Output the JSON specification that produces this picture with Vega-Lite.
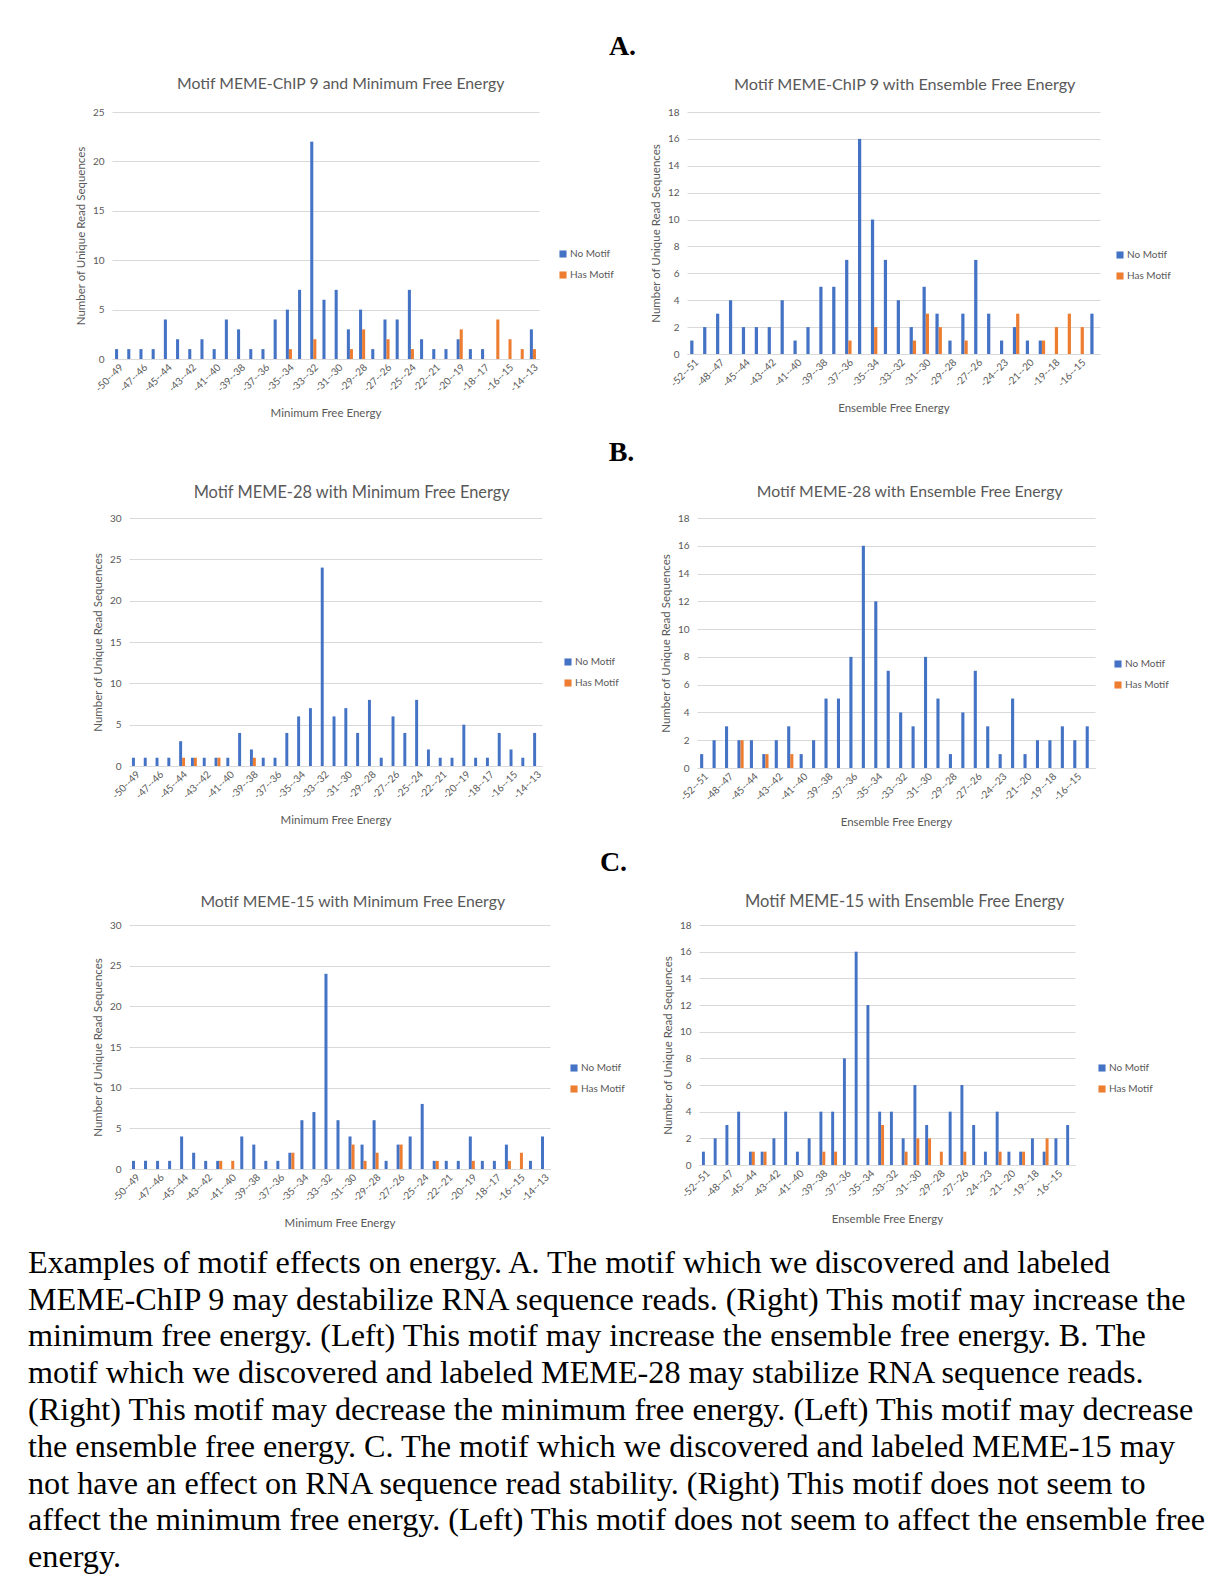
{
  "$schema": "https://vega.github.io/schema/vega-lite/v6.json",
  "padding": {"left": 28, "top": 33, "right": 5, "bottom": 2},
  "background": "white",
  "title": {
    "text": [
      "Examples of motif effects on energy. A. The motif which we discovered and labeled",
      "MEME-ChIP 9 may destabilize RNA sequence reads. (Right) This motif may increase the",
      "minimum free energy. (Left) This motif may increase the ensemble free energy. B. The",
      "motif which we discovered and labeled MEME-28 may stabilize RNA sequence reads.",
      "(Right) This motif may decrease the minimum free energy. (Left) This motif may decrease",
      "the ensemble free energy. C. The motif which we discovered and labeled MEME-15 may",
      "not have an effect on RNA sequence read stability. (Right) This motif does not seem to",
      "affect the minimum free energy. (Left) This motif does not seem to affect the ensemble free",
      "energy."
    ],
    "orient": "bottom",
    "anchor": "start",
    "font": "Liberation Serif",
    "fontSize": 32.2,
    "fontWeight": "normal",
    "color": "#000000",
    "lineHeight": 36.8,
    "offset": 19,
    "dx": -46
  },
  "datasets": {
    "aL": [
      {"bin": "-50--49", "motif": "No Motif", "count": 1},
      {"bin": "-48--47", "motif": "No Motif", "count": 1},
      {"bin": "-47--46", "motif": "No Motif", "count": 1},
      {"bin": "-46--45", "motif": "No Motif", "count": 1},
      {"bin": "-45--44", "motif": "No Motif", "count": 4},
      {"bin": "-44--43", "motif": "No Motif", "count": 2},
      {"bin": "-43--42", "motif": "No Motif", "count": 1},
      {"bin": "-42--41", "motif": "No Motif", "count": 2},
      {"bin": "-41--40", "motif": "No Motif", "count": 1},
      {"bin": "-40--39", "motif": "No Motif", "count": 4},
      {"bin": "-39--38", "motif": "No Motif", "count": 3},
      {"bin": "-38--37", "motif": "No Motif", "count": 1},
      {"bin": "-37--36", "motif": "No Motif", "count": 1},
      {"bin": "-36--35", "motif": "No Motif", "count": 4},
      {"bin": "-35--34", "motif": "No Motif", "count": 5},
      {"bin": "-35--34", "motif": "Has Motif", "count": 1},
      {"bin": "-34--33", "motif": "No Motif", "count": 7},
      {"bin": "-33--32", "motif": "No Motif", "count": 22},
      {"bin": "-33--32", "motif": "Has Motif", "count": 2},
      {"bin": "-32--31", "motif": "No Motif", "count": 6},
      {"bin": "-31--30", "motif": "No Motif", "count": 7},
      {"bin": "-30--29", "motif": "No Motif", "count": 3},
      {"bin": "-30--29", "motif": "Has Motif", "count": 1},
      {"bin": "-29--28", "motif": "No Motif", "count": 5},
      {"bin": "-29--28", "motif": "Has Motif", "count": 3},
      {"bin": "-28--27", "motif": "No Motif", "count": 1},
      {"bin": "-27--26", "motif": "No Motif", "count": 4},
      {"bin": "-27--26", "motif": "Has Motif", "count": 2},
      {"bin": "-26--25", "motif": "No Motif", "count": 4},
      {"bin": "-25--24", "motif": "No Motif", "count": 7},
      {"bin": "-25--24", "motif": "Has Motif", "count": 1},
      {"bin": "-24--23", "motif": "No Motif", "count": 2},
      {"bin": "-22--21", "motif": "No Motif", "count": 1},
      {"bin": "-21--20", "motif": "No Motif", "count": 1},
      {"bin": "-20--19", "motif": "No Motif", "count": 2},
      {"bin": "-20--19", "motif": "Has Motif", "count": 3},
      {"bin": "-19--18", "motif": "No Motif", "count": 1},
      {"bin": "-18--17", "motif": "No Motif", "count": 1},
      {"bin": "-17--16", "motif": "Has Motif", "count": 4},
      {"bin": "-16--15", "motif": "Has Motif", "count": 2},
      {"bin": "-15--14", "motif": "Has Motif", "count": 1},
      {"bin": "-14--13", "motif": "No Motif", "count": 3},
      {"bin": "-14--13", "motif": "Has Motif", "count": 1}
    ],
    "aR": [
      {"bin": "-52--51", "motif": "No Motif", "count": 1},
      {"bin": "-50--49", "motif": "No Motif", "count": 2},
      {"bin": "-48--47", "motif": "No Motif", "count": 3},
      {"bin": "-46--45", "motif": "No Motif", "count": 4},
      {"bin": "-45--44", "motif": "No Motif", "count": 2},
      {"bin": "-44--43", "motif": "No Motif", "count": 2},
      {"bin": "-43--42", "motif": "No Motif", "count": 2},
      {"bin": "-42--41", "motif": "No Motif", "count": 4},
      {"bin": "-41--40", "motif": "No Motif", "count": 1},
      {"bin": "-40--39", "motif": "No Motif", "count": 2},
      {"bin": "-39--38", "motif": "No Motif", "count": 5},
      {"bin": "-38--37", "motif": "No Motif", "count": 5},
      {"bin": "-37--36", "motif": "No Motif", "count": 7},
      {"bin": "-37--36", "motif": "Has Motif", "count": 1},
      {"bin": "-36--35", "motif": "No Motif", "count": 16},
      {"bin": "-35--34", "motif": "No Motif", "count": 10},
      {"bin": "-35--34", "motif": "Has Motif", "count": 2},
      {"bin": "-34--33", "motif": "No Motif", "count": 7},
      {"bin": "-33--32", "motif": "No Motif", "count": 4},
      {"bin": "-32--31", "motif": "No Motif", "count": 2},
      {"bin": "-32--31", "motif": "Has Motif", "count": 1},
      {"bin": "-31--30", "motif": "No Motif", "count": 5},
      {"bin": "-31--30", "motif": "Has Motif", "count": 3},
      {"bin": "-30--29", "motif": "No Motif", "count": 3},
      {"bin": "-30--29", "motif": "Has Motif", "count": 2},
      {"bin": "-29--28", "motif": "No Motif", "count": 1},
      {"bin": "-28--27", "motif": "No Motif", "count": 3},
      {"bin": "-28--27", "motif": "Has Motif", "count": 1},
      {"bin": "-27--26", "motif": "No Motif", "count": 7},
      {"bin": "-26--25", "motif": "No Motif", "count": 3},
      {"bin": "-24--23", "motif": "No Motif", "count": 1},
      {"bin": "-23--22", "motif": "No Motif", "count": 2},
      {"bin": "-23--22", "motif": "Has Motif", "count": 3},
      {"bin": "-21--20", "motif": "No Motif", "count": 1},
      {"bin": "-20--19", "motif": "No Motif", "count": 1},
      {"bin": "-20--19", "motif": "Has Motif", "count": 1},
      {"bin": "-19--18", "motif": "Has Motif", "count": 2},
      {"bin": "-18--17", "motif": "Has Motif", "count": 3},
      {"bin": "-16--15", "motif": "Has Motif", "count": 2},
      {"bin": "-15--14", "motif": "No Motif", "count": 3}
    ],
    "bL": [
      {"bin": "-50--49", "motif": "No Motif", "count": 1},
      {"bin": "-48--47", "motif": "No Motif", "count": 1},
      {"bin": "-47--46", "motif": "No Motif", "count": 1},
      {"bin": "-46--45", "motif": "No Motif", "count": 1},
      {"bin": "-45--44", "motif": "No Motif", "count": 3},
      {"bin": "-45--44", "motif": "Has Motif", "count": 1},
      {"bin": "-44--43", "motif": "No Motif", "count": 1},
      {"bin": "-44--43", "motif": "Has Motif", "count": 1},
      {"bin": "-43--42", "motif": "No Motif", "count": 1},
      {"bin": "-42--41", "motif": "No Motif", "count": 1},
      {"bin": "-42--41", "motif": "Has Motif", "count": 1},
      {"bin": "-41--40", "motif": "No Motif", "count": 1},
      {"bin": "-40--39", "motif": "No Motif", "count": 4},
      {"bin": "-39--38", "motif": "No Motif", "count": 2},
      {"bin": "-39--38", "motif": "Has Motif", "count": 1},
      {"bin": "-38--37", "motif": "No Motif", "count": 1},
      {"bin": "-37--36", "motif": "No Motif", "count": 1},
      {"bin": "-36--35", "motif": "No Motif", "count": 4},
      {"bin": "-35--34", "motif": "No Motif", "count": 6},
      {"bin": "-34--33", "motif": "No Motif", "count": 7},
      {"bin": "-33--32", "motif": "No Motif", "count": 24},
      {"bin": "-32--31", "motif": "No Motif", "count": 6},
      {"bin": "-31--30", "motif": "No Motif", "count": 7},
      {"bin": "-30--29", "motif": "No Motif", "count": 4},
      {"bin": "-29--28", "motif": "No Motif", "count": 8},
      {"bin": "-28--27", "motif": "No Motif", "count": 1},
      {"bin": "-27--26", "motif": "No Motif", "count": 6},
      {"bin": "-26--25", "motif": "No Motif", "count": 4},
      {"bin": "-25--24", "motif": "No Motif", "count": 8},
      {"bin": "-24--23", "motif": "No Motif", "count": 2},
      {"bin": "-22--21", "motif": "No Motif", "count": 1},
      {"bin": "-21--20", "motif": "No Motif", "count": 1},
      {"bin": "-20--19", "motif": "No Motif", "count": 5},
      {"bin": "-19--18", "motif": "No Motif", "count": 1},
      {"bin": "-18--17", "motif": "No Motif", "count": 1},
      {"bin": "-17--16", "motif": "No Motif", "count": 4},
      {"bin": "-16--15", "motif": "No Motif", "count": 2},
      {"bin": "-15--14", "motif": "No Motif", "count": 1},
      {"bin": "-14--13", "motif": "No Motif", "count": 4}
    ],
    "bR": [
      {"bin": "-52--51", "motif": "No Motif", "count": 1},
      {"bin": "-50--49", "motif": "No Motif", "count": 2},
      {"bin": "-48--47", "motif": "No Motif", "count": 3},
      {"bin": "-46--45", "motif": "No Motif", "count": 2},
      {"bin": "-46--45", "motif": "Has Motif", "count": 2},
      {"bin": "-45--44", "motif": "No Motif", "count": 2},
      {"bin": "-44--43", "motif": "No Motif", "count": 1},
      {"bin": "-44--43", "motif": "Has Motif", "count": 1},
      {"bin": "-43--42", "motif": "No Motif", "count": 2},
      {"bin": "-42--41", "motif": "No Motif", "count": 3},
      {"bin": "-42--41", "motif": "Has Motif", "count": 1},
      {"bin": "-41--40", "motif": "No Motif", "count": 1},
      {"bin": "-40--39", "motif": "No Motif", "count": 2},
      {"bin": "-39--38", "motif": "No Motif", "count": 5},
      {"bin": "-38--37", "motif": "No Motif", "count": 5},
      {"bin": "-37--36", "motif": "No Motif", "count": 8},
      {"bin": "-36--35", "motif": "No Motif", "count": 16},
      {"bin": "-35--34", "motif": "No Motif", "count": 12},
      {"bin": "-34--33", "motif": "No Motif", "count": 7},
      {"bin": "-33--32", "motif": "No Motif", "count": 4},
      {"bin": "-32--31", "motif": "No Motif", "count": 3},
      {"bin": "-31--30", "motif": "No Motif", "count": 8},
      {"bin": "-30--29", "motif": "No Motif", "count": 5},
      {"bin": "-29--28", "motif": "No Motif", "count": 1},
      {"bin": "-28--27", "motif": "No Motif", "count": 4},
      {"bin": "-27--26", "motif": "No Motif", "count": 7},
      {"bin": "-26--25", "motif": "No Motif", "count": 3},
      {"bin": "-24--23", "motif": "No Motif", "count": 1},
      {"bin": "-23--22", "motif": "No Motif", "count": 5},
      {"bin": "-21--20", "motif": "No Motif", "count": 1},
      {"bin": "-20--19", "motif": "No Motif", "count": 2},
      {"bin": "-19--18", "motif": "No Motif", "count": 2},
      {"bin": "-18--17", "motif": "No Motif", "count": 3},
      {"bin": "-16--15", "motif": "No Motif", "count": 2},
      {"bin": "-15--14", "motif": "No Motif", "count": 3}
    ],
    "cL": [
      {"bin": "-50--49", "motif": "No Motif", "count": 1},
      {"bin": "-48--47", "motif": "No Motif", "count": 1},
      {"bin": "-47--46", "motif": "No Motif", "count": 1},
      {"bin": "-46--45", "motif": "No Motif", "count": 1},
      {"bin": "-45--44", "motif": "No Motif", "count": 4},
      {"bin": "-44--43", "motif": "No Motif", "count": 2},
      {"bin": "-43--42", "motif": "No Motif", "count": 1},
      {"bin": "-42--41", "motif": "No Motif", "count": 1},
      {"bin": "-42--41", "motif": "Has Motif", "count": 1},
      {"bin": "-41--40", "motif": "Has Motif", "count": 1},
      {"bin": "-40--39", "motif": "No Motif", "count": 4},
      {"bin": "-39--38", "motif": "No Motif", "count": 3},
      {"bin": "-38--37", "motif": "No Motif", "count": 1},
      {"bin": "-37--36", "motif": "No Motif", "count": 1},
      {"bin": "-36--35", "motif": "No Motif", "count": 2},
      {"bin": "-36--35", "motif": "Has Motif", "count": 2},
      {"bin": "-35--34", "motif": "No Motif", "count": 6},
      {"bin": "-34--33", "motif": "No Motif", "count": 7},
      {"bin": "-33--32", "motif": "No Motif", "count": 24},
      {"bin": "-32--31", "motif": "No Motif", "count": 6},
      {"bin": "-31--30", "motif": "No Motif", "count": 4},
      {"bin": "-31--30", "motif": "Has Motif", "count": 3},
      {"bin": "-30--29", "motif": "No Motif", "count": 3},
      {"bin": "-30--29", "motif": "Has Motif", "count": 1},
      {"bin": "-29--28", "motif": "No Motif", "count": 6},
      {"bin": "-29--28", "motif": "Has Motif", "count": 2},
      {"bin": "-28--27", "motif": "No Motif", "count": 1},
      {"bin": "-27--26", "motif": "No Motif", "count": 3},
      {"bin": "-27--26", "motif": "Has Motif", "count": 3},
      {"bin": "-26--25", "motif": "No Motif", "count": 4},
      {"bin": "-25--24", "motif": "No Motif", "count": 8},
      {"bin": "-24--23", "motif": "No Motif", "count": 1},
      {"bin": "-24--23", "motif": "Has Motif", "count": 1},
      {"bin": "-22--21", "motif": "No Motif", "count": 1},
      {"bin": "-21--20", "motif": "No Motif", "count": 1},
      {"bin": "-20--19", "motif": "No Motif", "count": 4},
      {"bin": "-20--19", "motif": "Has Motif", "count": 1},
      {"bin": "-19--18", "motif": "No Motif", "count": 1},
      {"bin": "-18--17", "motif": "No Motif", "count": 1},
      {"bin": "-17--16", "motif": "No Motif", "count": 3},
      {"bin": "-17--16", "motif": "Has Motif", "count": 1},
      {"bin": "-16--15", "motif": "Has Motif", "count": 2},
      {"bin": "-15--14", "motif": "No Motif", "count": 1},
      {"bin": "-14--13", "motif": "No Motif", "count": 4}
    ],
    "cR": [
      {"bin": "-52--51", "motif": "No Motif", "count": 1},
      {"bin": "-50--49", "motif": "No Motif", "count": 2},
      {"bin": "-48--47", "motif": "No Motif", "count": 3},
      {"bin": "-46--45", "motif": "No Motif", "count": 4},
      {"bin": "-45--44", "motif": "No Motif", "count": 1},
      {"bin": "-45--44", "motif": "Has Motif", "count": 1},
      {"bin": "-44--43", "motif": "No Motif", "count": 1},
      {"bin": "-44--43", "motif": "Has Motif", "count": 1},
      {"bin": "-43--42", "motif": "No Motif", "count": 2},
      {"bin": "-42--41", "motif": "No Motif", "count": 4},
      {"bin": "-41--40", "motif": "No Motif", "count": 1},
      {"bin": "-40--39", "motif": "No Motif", "count": 2},
      {"bin": "-39--38", "motif": "No Motif", "count": 4},
      {"bin": "-39--38", "motif": "Has Motif", "count": 1},
      {"bin": "-38--37", "motif": "No Motif", "count": 4},
      {"bin": "-38--37", "motif": "Has Motif", "count": 1},
      {"bin": "-37--36", "motif": "No Motif", "count": 8},
      {"bin": "-36--35", "motif": "No Motif", "count": 16},
      {"bin": "-35--34", "motif": "No Motif", "count": 12},
      {"bin": "-34--33", "motif": "No Motif", "count": 4},
      {"bin": "-34--33", "motif": "Has Motif", "count": 3},
      {"bin": "-33--32", "motif": "No Motif", "count": 4},
      {"bin": "-32--31", "motif": "No Motif", "count": 2},
      {"bin": "-32--31", "motif": "Has Motif", "count": 1},
      {"bin": "-31--30", "motif": "No Motif", "count": 6},
      {"bin": "-31--30", "motif": "Has Motif", "count": 2},
      {"bin": "-30--29", "motif": "No Motif", "count": 3},
      {"bin": "-30--29", "motif": "Has Motif", "count": 2},
      {"bin": "-29--28", "motif": "Has Motif", "count": 1},
      {"bin": "-28--27", "motif": "No Motif", "count": 4},
      {"bin": "-27--26", "motif": "No Motif", "count": 6},
      {"bin": "-27--26", "motif": "Has Motif", "count": 1},
      {"bin": "-26--25", "motif": "No Motif", "count": 3},
      {"bin": "-24--23", "motif": "No Motif", "count": 1},
      {"bin": "-23--22", "motif": "No Motif", "count": 4},
      {"bin": "-23--22", "motif": "Has Motif", "count": 1},
      {"bin": "-21--20", "motif": "No Motif", "count": 1},
      {"bin": "-20--19", "motif": "No Motif", "count": 1},
      {"bin": "-20--19", "motif": "Has Motif", "count": 1},
      {"bin": "-19--18", "motif": "No Motif", "count": 2},
      {"bin": "-18--17", "motif": "No Motif", "count": 1},
      {"bin": "-18--17", "motif": "Has Motif", "count": 2},
      {"bin": "-16--15", "motif": "No Motif", "count": 2},
      {"bin": "-15--14", "motif": "No Motif", "count": 3}
    ]
  },
  "vconcat": [
    {
      "title": {"text": "A.", "anchor": "middle", "font": "Liberation Serif", "fontSize": 28, "fontWeight": "bold", "color": "#000000", "offset": 15},
      "spacing": 0,
      "hconcat": [
        {"width": 1, "height": 10, "data": {"values": [{}]}, "mark": {"type": "text"}, "encoding": {"text": {"value": ""}}},
        {
          "spacing": 36,
          "hconcat": [
            {
              "width": 427, "height": 247,
              "title": {"text": "Motif MEME-ChIP 9 and Minimum Free Energy", "offset": 14, "frame": "bounds", "fontSize": 15.8, "dx": -4},
              "data": {"name": "aL"},
              "mark": {"type": "bar"},
              "encoding": {
                "x": {"field": "bin", "type": "nominal",
                  "sort": ["-50--49","-48--47","-47--46","-46--45","-45--44","-44--43","-43--42","-42--41","-41--40","-40--39","-39--38","-38--37","-37--36","-36--35","-35--34","-34--33","-33--32","-32--31","-31--30","-30--29","-29--28","-28--27","-27--26","-26--25","-25--24","-24--23","-22--21","-21--20","-20--19","-19--18","-18--17","-17--16","-16--15","-15--14","-14--13"],
                  "scale": {"domain": ["-50--49","-48--47","-47--46","-46--45","-45--44","-44--43","-43--42","-42--41","-41--40","-40--39","-39--38","-38--37","-37--36","-36--35","-35--34","-34--33","-33--32","-32--31","-31--30","-30--29","-29--28","-28--27","-27--26","-26--25","-25--24","-24--23","-22--21","-21--20","-20--19","-19--18","-18--17","-17--16","-16--15","-15--14","-14--13"], "paddingInner": 0.5, "paddingOuter": 0.25},
                  "axis": {"values": ["-50--49","-47--46","-45--44","-43--42","-41--40","-39--38","-37--36","-35--34","-33--32","-31--30","-29--28","-27--26","-25--24","-22--21","-20--19","-18--17","-16--15","-14--13"], "title": "Minimum Free Energy"}},
                "xOffset": {"field": "motif", "type": "nominal", "scale": {"domain": ["No Motif", "Has Motif"]}},
                "y": {"field": "count", "type": "quantitative", "scale": {"domain": [0, 25]}, "axis": {"values": [0, 5, 10, 15, 20, 25], "title": "Number of Unique Read Sequences"}},
                "color": {"field": "motif", "type": "nominal", "scale": {"domain": ["No Motif", "Has Motif"], "range": ["#4472C4", "#ED7D31"]}, "legend": {"legendX": 446, "legendY": 137}}
              }
            },
            {
              "width": 413, "height": 242,
              "title": {"text": "Motif MEME-ChIP 9 with Ensemble Free Energy", "offset": 14, "frame": "bounds", "fontSize": 16.2, "dx": -6},
              "data": {"name": "aR"},
              "mark": {"type": "bar"},
              "encoding": {
                "x": {"field": "bin", "type": "nominal",
                  "sort": ["-52--51","-50--49","-48--47","-46--45","-45--44","-44--43","-43--42","-42--41","-41--40","-40--39","-39--38","-38--37","-37--36","-36--35","-35--34","-34--33","-33--32","-32--31","-31--30","-30--29","-29--28","-28--27","-27--26","-26--25","-24--23","-23--22","-21--20","-20--19","-19--18","-18--17","-16--15","-15--14"],
                  "scale": {"domain": ["-52--51","-50--49","-48--47","-46--45","-45--44","-44--43","-43--42","-42--41","-41--40","-40--39","-39--38","-38--37","-37--36","-36--35","-35--34","-34--33","-33--32","-32--31","-31--30","-30--29","-29--28","-28--27","-27--26","-26--25","-24--23","-23--22","-21--20","-20--19","-19--18","-18--17","-16--15","-15--14"], "paddingInner": 0.5, "paddingOuter": 0.25},
                  "axis": {"values": ["-52--51","-48--47","-45--44","-43--42","-41--40","-39--38","-37--36","-35--34","-33--32","-31--30","-29--28","-27--26","-24--23","-21--20","-19--18","-16--15"], "title": "Ensemble Free Energy"}},
                "xOffset": {"field": "motif", "type": "nominal", "scale": {"domain": ["No Motif", "Has Motif"]}},
                "y": {"field": "count", "type": "quantitative", "scale": {"domain": [0, 18]}, "axis": {"values": [0, 2, 4, 6, 8, 10, 12, 14, 16, 18], "title": "Number of Unique Read Sequences"}},
                "color": {"field": "motif", "type": "nominal", "scale": {"domain": ["No Motif", "Has Motif"], "range": ["#4472C4", "#ED7D31"]}, "legend": {"legendX": 428, "legendY": 138}}
              }
            }
          ],
          "resolve": {"scale": {"x": "independent", "y": "independent", "xOffset": "independent", "color": "independent"}, "legend": {"color": "independent"}}
        }
      ],
      "resolve": {"scale": {"x": "independent", "y": "independent", "xOffset": "independent", "color": "independent"}, "legend": {"color": "independent"}}
    },
    {
      "title": {"text": "B.", "anchor": "middle", "font": "Liberation Serif", "fontSize": 28, "fontWeight": "bold", "color": "#000000", "offset": 17},
      "spacing": 0,
      "hconcat": [
        {"width": 18, "height": 10, "data": {"values": [{}]}, "mark": {"type": "text"}, "encoding": {"text": {"value": ""}}},
        {
          "spacing": 41,
          "hconcat": [
            {
              "width": 413, "height": 248,
              "title": {"text": "Motif MEME-28 with Minimum Free Energy", "offset": 12, "frame": "bounds", "fontSize": 16.4, "dx": -4},
              "data": {"name": "bL"},
              "mark": {"type": "bar"},
              "encoding": {
                "x": {"field": "bin", "type": "nominal",
                  "sort": ["-50--49","-48--47","-47--46","-46--45","-45--44","-44--43","-43--42","-42--41","-41--40","-40--39","-39--38","-38--37","-37--36","-36--35","-35--34","-34--33","-33--32","-32--31","-31--30","-30--29","-29--28","-28--27","-27--26","-26--25","-25--24","-24--23","-22--21","-21--20","-20--19","-19--18","-18--17","-17--16","-16--15","-15--14","-14--13"],
                  "scale": {"domain": ["-50--49","-48--47","-47--46","-46--45","-45--44","-44--43","-43--42","-42--41","-41--40","-40--39","-39--38","-38--37","-37--36","-36--35","-35--34","-34--33","-33--32","-32--31","-31--30","-30--29","-29--28","-28--27","-27--26","-26--25","-25--24","-24--23","-22--21","-21--20","-20--19","-19--18","-18--17","-17--16","-16--15","-15--14","-14--13"], "paddingInner": 0.5, "paddingOuter": 0.25},
                  "axis": {"values": ["-50--49","-47--46","-45--44","-43--42","-41--40","-39--38","-37--36","-35--34","-33--32","-31--30","-29--28","-27--26","-25--24","-22--21","-20--19","-18--17","-16--15","-14--13"], "title": "Minimum Free Energy"}},
                "xOffset": {"field": "motif", "type": "nominal", "scale": {"domain": ["No Motif", "Has Motif"]}},
                "y": {"field": "count", "type": "quantitative", "scale": {"domain": [0, 30]}, "axis": {"values": [0, 5, 10, 15, 20, 25, 30], "title": "Number of Unique Read Sequences"}},
                "color": {"field": "motif", "type": "nominal", "scale": {"domain": ["No Motif", "Has Motif"], "range": ["#4472C4", "#ED7D31"]}, "legend": {"legendX": 434, "legendY": 139}}
              }
            },
            {
              "width": 398, "height": 250,
              "title": {"text": "Motif MEME-28 with Ensemble Free Energy", "offset": 12, "frame": "bounds", "fontSize": 15.8, "dx": -5},
              "data": {"name": "bR"},
              "mark": {"type": "bar"},
              "encoding": {
                "x": {"field": "bin", "type": "nominal",
                  "sort": ["-52--51","-50--49","-48--47","-46--45","-45--44","-44--43","-43--42","-42--41","-41--40","-40--39","-39--38","-38--37","-37--36","-36--35","-35--34","-34--33","-33--32","-32--31","-31--30","-30--29","-29--28","-28--27","-27--26","-26--25","-24--23","-23--22","-21--20","-20--19","-19--18","-18--17","-16--15","-15--14"],
                  "scale": {"domain": ["-52--51","-50--49","-48--47","-46--45","-45--44","-44--43","-43--42","-42--41","-41--40","-40--39","-39--38","-38--37","-37--36","-36--35","-35--34","-34--33","-33--32","-32--31","-31--30","-30--29","-29--28","-28--27","-27--26","-26--25","-24--23","-23--22","-21--20","-20--19","-19--18","-18--17","-16--15","-15--14"], "paddingInner": 0.5, "paddingOuter": 0.25},
                  "axis": {"values": ["-52--51","-48--47","-45--44","-43--42","-41--40","-39--38","-37--36","-35--34","-33--32","-31--30","-29--28","-27--26","-24--23","-21--20","-19--18","-16--15"], "title": "Ensemble Free Energy"}},
                "xOffset": {"field": "motif", "type": "nominal", "scale": {"domain": ["No Motif", "Has Motif"]}},
                "y": {"field": "count", "type": "quantitative", "scale": {"domain": [0, 18]}, "axis": {"values": [0, 2, 4, 6, 8, 10, 12, 14, 16, 18], "title": "Number of Unique Read Sequences"}},
                "color": {"field": "motif", "type": "nominal", "scale": {"domain": ["No Motif", "Has Motif"], "range": ["#4472C4", "#ED7D31"]}, "legend": {"legendX": 416, "legendY": 141}}
              }
            }
          ],
          "resolve": {"scale": {"x": "independent", "y": "independent", "xOffset": "independent", "color": "independent"}, "legend": {"color": "independent"}}
        }
      ],
      "resolve": {"scale": {"x": "independent", "y": "independent", "xOffset": "independent", "color": "independent"}, "legend": {"color": "independent"}}
    },
    {
      "title": {"text": "C.", "anchor": "middle", "font": "Liberation Serif", "fontSize": 28, "fontWeight": "bold", "color": "#000000", "offset": 17},
      "spacing": 0,
      "hconcat": [
        {"width": 18, "height": 10, "data": {"values": [{}]}, "mark": {"type": "text"}, "encoding": {"text": {"value": ""}}},
        {
          "spacing": 37,
          "hconcat": [
            {
              "width": 421, "height": 244,
              "title": {"text": "Motif MEME-15 with Minimum Free Energy", "offset": 9, "frame": "bounds", "fontSize": 15.8, "dx": -6},
              "data": {"name": "cL"},
              "mark": {"type": "bar"},
              "encoding": {
                "x": {"field": "bin", "type": "nominal",
                  "sort": ["-50--49","-48--47","-47--46","-46--45","-45--44","-44--43","-43--42","-42--41","-41--40","-40--39","-39--38","-38--37","-37--36","-36--35","-35--34","-34--33","-33--32","-32--31","-31--30","-30--29","-29--28","-28--27","-27--26","-26--25","-25--24","-24--23","-22--21","-21--20","-20--19","-19--18","-18--17","-17--16","-16--15","-15--14","-14--13"],
                  "scale": {"domain": ["-50--49","-48--47","-47--46","-46--45","-45--44","-44--43","-43--42","-42--41","-41--40","-40--39","-39--38","-38--37","-37--36","-36--35","-35--34","-34--33","-33--32","-32--31","-31--30","-30--29","-29--28","-28--27","-27--26","-26--25","-25--24","-24--23","-22--21","-21--20","-20--19","-19--18","-18--17","-17--16","-16--15","-15--14","-14--13"], "paddingInner": 0.5, "paddingOuter": 0.25},
                  "axis": {"values": ["-50--49","-47--46","-45--44","-43--42","-41--40","-39--38","-37--36","-35--34","-33--32","-31--30","-29--28","-27--26","-25--24","-22--21","-20--19","-18--17","-16--15","-14--13"], "title": "Minimum Free Energy"}},
                "xOffset": {"field": "motif", "type": "nominal", "scale": {"domain": ["No Motif", "Has Motif"]}},
                "y": {"field": "count", "type": "quantitative", "scale": {"domain": [0, 30]}, "axis": {"values": [0, 5, 10, 15, 20, 25, 30], "title": "Number of Unique Read Sequences"}},
                "color": {"field": "motif", "type": "nominal", "scale": {"domain": ["No Motif", "Has Motif"], "range": ["#4472C4", "#ED7D31"]}, "legend": {"legendX": 440, "legendY": 138}}
              }
            },
            {
              "width": 376, "height": 240,
              "title": {"text": "Motif MEME-15 with Ensemble Free Energy", "offset": 10, "frame": "bounds", "fontSize": 16.5, "dx": -3},
              "data": {"name": "cR"},
              "mark": {"type": "bar"},
              "encoding": {
                "x": {"field": "bin", "type": "nominal",
                  "sort": ["-52--51","-50--49","-48--47","-46--45","-45--44","-44--43","-43--42","-42--41","-41--40","-40--39","-39--38","-38--37","-37--36","-36--35","-35--34","-34--33","-33--32","-32--31","-31--30","-30--29","-29--28","-28--27","-27--26","-26--25","-24--23","-23--22","-21--20","-20--19","-19--18","-18--17","-16--15","-15--14"],
                  "scale": {"domain": ["-52--51","-50--49","-48--47","-46--45","-45--44","-44--43","-43--42","-42--41","-41--40","-40--39","-39--38","-38--37","-37--36","-36--35","-35--34","-34--33","-33--32","-32--31","-31--30","-30--29","-29--28","-28--27","-27--26","-26--25","-24--23","-23--22","-21--20","-20--19","-19--18","-18--17","-16--15","-15--14"], "paddingInner": 0.5, "paddingOuter": 0.25},
                  "axis": {"values": ["-52--51","-48--47","-45--44","-43--42","-41--40","-39--38","-37--36","-35--34","-33--32","-31--30","-29--28","-27--26","-24--23","-21--20","-19--18","-16--15"], "title": "Ensemble Free Energy"}},
                "xOffset": {"field": "motif", "type": "nominal", "scale": {"domain": ["No Motif", "Has Motif"]}},
                "y": {"field": "count", "type": "quantitative", "scale": {"domain": [0, 18]}, "axis": {"values": [0, 2, 4, 6, 8, 10, 12, 14, 16, 18], "title": "Number of Unique Read Sequences"}},
                "color": {"field": "motif", "type": "nominal", "scale": {"domain": ["No Motif", "Has Motif"], "range": ["#4472C4", "#ED7D31"]}, "legend": {"legendX": 398, "legendY": 138}}
              }
            }
          ],
          "resolve": {"scale": {"x": "independent", "y": "independent", "xOffset": "independent", "color": "independent"}, "legend": {"color": "independent"}}
        }
      ],
      "resolve": {"scale": {"x": "independent", "y": "independent", "xOffset": "independent", "color": "independent"}, "legend": {"color": "independent"}}
    }
  ],
  "spacing": 20,
  "resolve": {"scale": {"x": "independent", "y": "independent", "xOffset": "independent", "color": "independent"}, "legend": {"color": "independent"}},
  "config": {
    "view": {"stroke": null},
    "font": "Lato",
    "title": {"font": "Lato", "fontSize": 15.8, "fontWeight": "normal", "color": "#595959"},
    "axis": {"labelColor": "#595959", "titleColor": "#595959", "labelFont": "Lato", "titleFont": "Lato", "titleFontWeight": "normal", "ticks": false, "gridColor": "#D9D9D9", "domainColor": "#D9D9D9"},
    "axisY": {"domain": false, "labelFontSize": 10, "titleFontSize": 11.5, "labelPadding": 8, "titlePadding": 6},
    "axisX": {"grid": false, "labelAngle": -45, "labelFontSize": 10, "titleFontSize": 11.5, "labelPadding": 3, "titlePadding": 14},
    "legend": {"orient": "none", "title": null, "labelFont": "Lato", "labelFontSize": 10, "labelColor": "#595959", "symbolType": "square", "symbolSize": 50, "symbolStrokeWidth": 0, "rowPadding": 11, "labelOffset": 2}
  }
}
